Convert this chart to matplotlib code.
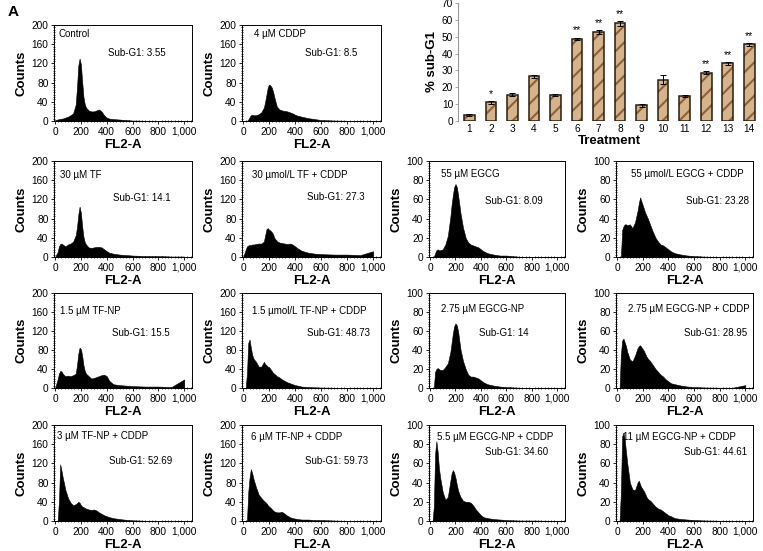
import matplotlib
matplotlib.use("Agg")
import matplotlib.pyplot as plt
from matplotlib.ticker import MultipleLocator, FixedLocator

plt.rcParams['font.family'] = ['Liberation Sans', 'DejaVu Sans']
plt.rcParams['hatch.linewidth'] = 1.5

# ---------------- data ----------------
fl2 = [0, 20, 30, 40, 50, 60, 70, 80, 100, 120, 140, 160, 170, 180, 190, 200, 210, 220,
       230, 240, 260, 280, 300, 320, 340, 360, 380, 400, 420, 450, 500, 550, 600, 700,
       800, 900, 1000]

control = [2, 3, 4, 4, 5, 5, 6, 7, 9, 12, 16, 34, 70, 115, 130, 118, 82, 50, 35, 28, 22, 20,
           20, 22, 24, 20, 12, 7, 5, 4, 3, 2, 1, 0.5, 0, 0, 0]
cddp_4 = [0, 0, 0, 3, 8, 12, 13, 12, 12, 14, 18, 28, 40, 55, 70, 76, 74, 70, 62, 50, 30, 24,
          22, 21, 20, 18, 16, 13, 11, 9, 6, 4, 2, 1, 0.5, 0, 0]
tf_30 = [0, 10, 22, 27, 28, 26, 24, 22, 26, 28, 32, 45, 62, 88, 105, 92, 64, 42, 31, 26, 20,
         19, 20, 21, 21, 20, 16, 12, 9, 7, 5, 4, 3, 2, 2, 1, 1]
tf_30_cddp = [0, 15, 22, 24, 25, 25, 26, 26, 27, 28, 28, 32, 45, 58, 60, 57, 55, 52, 48, 40,
              33, 30, 29, 28, 27, 28, 26, 22, 18, 13, 9, 7, 6, 5, 5, 4, 12]
egcg_55 = [0, 0, 0, 4, 7, 8, 7, 7, 8, 13, 22, 42, 55, 65, 73, 76, 73, 65, 55, 45, 30, 20, 15,
           13, 12, 11, 10, 8, 6, 4, 2.5, 1.5, 1.5, 0.3, 0, 0, 0]
egcg_55_cddp = [0, 0, 0, 28, 32, 34, 34, 33, 34, 30, 36, 48, 56, 62, 58, 54, 50, 46, 43, 40,
                33, 26, 20, 16, 13, 12, 10, 8, 6, 4, 2.5, 1.5, 1, 0.3, 0, 0, 0]
tfnp_15 = [0, 18, 30, 36, 35, 30, 27, 25, 26, 25, 27, 30, 48, 72, 85, 82, 68, 48, 36, 30, 25,
           20, 21, 23, 25, 27, 28, 25, 15, 8, 6, 5, 4, 3, 3, 2, 18]
tfnp_15_cddp = [0, 0, 30, 95, 102, 85, 70, 62, 55, 45, 45, 55, 50, 48, 45, 44, 40, 36, 32, 30,
                25, 22, 18, 15, 12, 10, 8, 6, 5, 3, 2, 1.5, 1, 0.5, 0, 0, 0]
egcgnp_275 = [0, 0, 0, 17, 20, 21, 20, 19, 19, 22, 26, 38, 48, 58, 65, 68, 66, 60, 50, 40, 28,
              20, 14, 12, 12, 11, 10, 8, 6, 4, 2.5, 1.5, 1, 0.3, 0, 0, 0]
egcgnp_275_cddp = [0, 0, 35, 50, 52, 48, 44, 38, 30, 28, 34, 42, 44, 45, 43, 41, 39, 36, 33,
                   31, 28, 24, 20, 17, 14, 12, 9, 7, 5, 4, 2.5, 1.5, 1, 0.5, 0.3, 0.3, 3]
tfnp_3_cddp = [0, 0, 40, 118, 105, 90, 78, 65, 48, 38, 33, 35, 37, 40, 38, 33, 30, 29, 27, 26,
               24, 23, 24, 22, 18, 15, 12, 10, 8, 6, 4, 2.5, 1.5, 0.5, 0, 0, 0]
tfnp_6_cddp = [0, 0, 0, 60, 90, 108, 100, 88, 70, 55, 48, 42, 40, 37, 33, 30, 28, 25, 22, 20,
               18, 18, 19, 15, 11, 8, 6, 5, 4, 3, 3, 2, 2, 1, 0.3, 0, 0]
egcgnp_55_cddp = [0, 0, 15, 70, 83, 72, 55, 45, 30, 22, 25, 42, 50, 53, 50, 45, 38, 32, 28, 25,
                  21, 20, 20, 19, 16, 12, 9, 6, 4, 3, 2, 1.5, 1, 0.5, 0.5, 0.3, 0]
egcgnp_11_cddp = [0, 0, 30, 88, 92, 85, 72, 60, 40, 33, 32, 40, 42, 38, 35, 33, 31, 28, 25, 23,
                  21, 18, 15, 13, 12, 10, 8, 6, 5, 3, 2, 1.5, 1, 0.5, 0.3, 0, 0]

panel_titles = ["Control", "4 \u00b5M CDDP",
                "30 \u00b5M TF", "30 \u00b5mol/L TF + CDDP", "55 \u00b5M EGCG", "55 \u00b5mol/L EGCG + CDDP",
                "1.5 \u00b5M TF-NP", "1.5 \u00b5mol/L TF-NP + CDDP", "2.75 \u00b5M EGCG-NP", "2.75 \u00b5M EGCG-NP + CDDP",
                "3 \u00b5M TF-NP + CDDP", "6 \u00b5M TF-NP + CDDP", "5.5 \u00b5M EGCG-NP + CDDP", "11 \u00b5M EGCG-NP + CDDP"]
sub_g1 = ["3.55", "8.5", "14.1", "27.3", "8.09", "23.28", "15.5", "48.73", "14", "28.95",
          "52.69", "59.73", "34.60", "44.61"]
panel_counts = [control, cddp_4, tf_30, tf_30_cddp, egcg_55, egcg_55_cddp, tfnp_15, tfnp_15_cddp,
                egcgnp_275, egcgnp_275_cddp, tfnp_3_cddp, tfnp_6_cddp, egcgnp_55_cddp, egcgnp_11_cddp]
y_max = [200, 200, 200, 200, 100, 100, 200, 200, 100, 100, 200, 200, 100, 100]

treatment = [1, 2, 3, 4, 5, 6, 7, 8, 9, 10, 11, 12, 13, 14]
pct_subg1 = [3.5, 11, 15.7, 26.4, 15.7, 48.7, 52.7, 58, 9.4, 24.6, 14.9, 28.6, 34.3, 45.5]
pct_err = [0.5, 0.8, 0.8, 0.6, 0.6, 0.8, 1.2, 1.5, 0.8, 2.8, 0.4, 0.8, 0.8, 0.8]
signif = ["", "*", "", "", "", "**", "**", "**", "", "", "", "**", "**", "**"]

# ---------------- layout ----------------
W, H = 763, 551
fig = plt.figure(figsize=(W / 100, H / 100), dpi=100)

cols = [(54, 192), (242, 381), (429, 565), (616, 753)]
rows = [(25, 121), (161, 257), (293, 388), (425, 521)]
slots = [(0, 0), (0, 1),
         (1, 0), (1, 1), (1, 2), (1, 3),
         (2, 0), (2, 1), (2, 2), (2, 3),
         (3, 0), (3, 1), (3, 2), (3, 3)]
title_pos = [(0.036, 0.91), (0.086, 0.91),
             (0.04, 0.85), (0.07, 0.85), (0.086, 0.86), (0.11, 0.86),
             (0.04, 0.81), (0.07, 0.81), (0.086, 0.83), (0.088, 0.83),
             (0.02, 0.885), (0.065, 0.88), (0.06, 0.88), (0.05, 0.88)]
sub_pos = [(0.39, 0.71), (0.45, 0.71),
           (0.43, 0.61), (0.47, 0.62), (0.41, 0.58), (0.51, 0.58),
           (0.42, 0.58), (0.47, 0.58), (0.37, 0.58), (0.50, 0.58),
           (0.40, 0.625), (0.45, 0.625), (0.41, 0.72), (0.50, 0.72)]


def ax_rect(x0, x1, y0, y1):
    return [x0 / W, 1 - y1 / H, (x1 - x0) / W, (y1 - y0) / H]


for i, counts in enumerate(panel_counts):
    r, c = slots[i]
    ax = fig.add_axes(ax_rect(cols[c][0], cols[c][1], rows[r][0], rows[r][1]))
    ax.fill_between(fl2, 0, counts, color='black', lw=0.4, edgecolor='black')
    ax.set_xlim(-8, 1060)
    ax.set_ylim(0, y_max[i])
    ax.xaxis.set_major_locator(FixedLocator([0, 200, 400, 600, 800, 1000]))
    ax.set_xticklabels(["0", "200", "400", "600", "800", "1,000"])
    step = y_max[i] / 5
    ax.yaxis.set_major_locator(MultipleLocator(step))
    ax.yaxis.set_minor_locator(MultipleLocator(step / 8))
    ax.xaxis.set_minor_locator(MultipleLocator(25))
    ax.tick_params(which='major', labelsize=7.3, length=2.5, width=0.6, pad=1.5)
    ax.tick_params(which='minor', length=1.2, width=0.5, direction='inout')
    for s in ax.spines.values():
        s.set_linewidth(0.7)
    ax.set_ylabel("Counts", fontsize=9.5, fontweight='bold', labelpad=3)
    ax.set_xlabel("FL2-A", fontsize=9.5, fontweight='bold', labelpad=1.5)
    tx, ty = title_pos[i]
    ax.text(tx, ty, panel_titles[i], transform=ax.transAxes, fontsize=7, va='center', ha='left')
    sx, sy = sub_pos[i]
    ax.text(sx, sy, "Sub-G1: " + sub_g1[i], transform=ax.transAxes, fontsize=7, va='center', ha='left')

# ---------------- bar chart ----------------
bx = fig.add_axes(ax_rect(458, 761, 3, 121))
bx.bar(treatment, pct_subg1, width=0.5, color='#d4b38d', edgecolor='#8f6038', hatch='//', lw=0, zorder=2)
bx.bar(treatment, pct_subg1, width=0.5, fill=False, edgecolor='#2a1c10', lw=1.1, zorder=3)
bx.errorbar(treatment, pct_subg1, yerr=pct_err, fmt='none', ecolor='black', elinewidth=0.7,
            capsize=2, capthick=0.7, zorder=4)
for t, v, e, s in zip(treatment, pct_subg1, pct_err, signif):
    if s:
        bx.annotate(s, (t, v + e), xytext=(0, 1.5), textcoords='offset points',
                    ha='center', va='bottom', fontsize=7.5)
bx.set_xlim(0.47, 14.55)
bx.set_ylim(0, 70)
bx.set_xticks(treatment)
bx.yaxis.set_major_locator(MultipleLocator(10))
bx.tick_params(axis='x', length=0, labelsize=7.3, pad=2)
bx.tick_params(axis='y', length=2, width=0.6, labelsize=7.3, color='#999999', pad=1.5)
for side in ['top', 'right', 'bottom']:
    bx.spines[side].set_visible(False)
bx.spines['left'].set_color('#999999')
bx.spines['left'].set_linewidth(0.8)
bx.set_ylabel("% sub-G1", fontsize=9.5, fontweight='bold', labelpad=3)
bx.set_xlabel("Treatment", fontsize=9.5, fontweight='bold', labelpad=1)

fig.text(8 / W, 1 - 12 / H, "A", fontsize=11, fontweight='bold', va='center', ha='left')

fig.savefig("out.png", dpi=100)
